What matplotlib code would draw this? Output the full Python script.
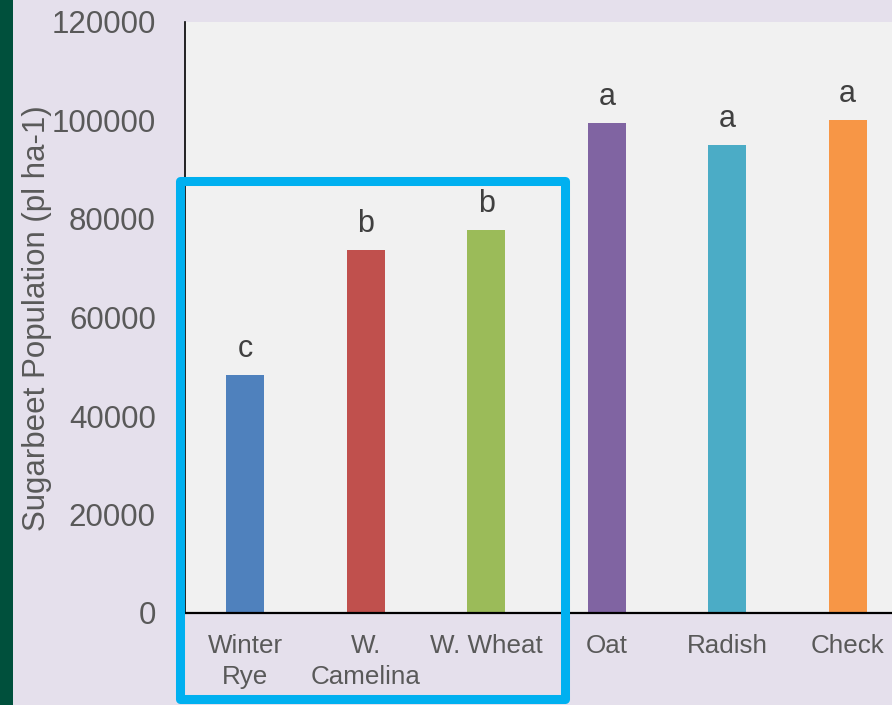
"""Sugarbeet population by cover crop treatment (bar chart with letter groups)"""

import matplotlib
matplotlib.use('Agg')
import matplotlib.pyplot as plt
from matplotlib.patches import Rectangle
import numpy as np

# data
treatments = ['Winter\nRye', 'W.\nCamelina', 'W. Wheat', 'Oat', 'Radish', 'Check']
population = [48300, 73700, 77800, 99500, 95000, 100100]
groups = ['c', 'b', 'b', 'a', 'a', 'a']
bar_colors = ['#4F81BD', '#C0504D', '#9BBB59', '#8064A2', '#4BACC6', '#F79646']
y_ticks = [0, 20000, 40000, 60000, 80000, 100000, 120000]

plt.rcParams['font.family'] = ['Liberation Sans', 'DejaVu Sans']

W, H = 892, 705
fig = plt.figure(figsize=(W / 100, H / 100), dpi=100, facecolor='#E5E0EC')

# dark green strip at the left edge of the slide
strip = Rectangle((0, 0), 13 / W, 1, transform=fig.transFigure,
                  facecolor='#00503C', edgecolor='none')
fig.add_artist(strip)

# plot area runs past the right edge of the slide
ax = fig.add_axes([185 / W, 1 - 613 / H, (908 - 185) / W, (613 - 22) / H])
ax.set_facecolor('#F1F1F1')

x = np.arange(len(treatments))
bars = ax.bar(x, population, width=0.315, color=bar_colors)

# significance letters above bars
for xi, val, g in zip(x, population, groups):
    ax.annotate(g, (xi, val), xytext=(0, 8), textcoords='offset points',
                ha='center', va='bottom', fontsize=22, color='#404040')

ax.set_xlim(-0.5, len(treatments) - 0.5)
ax.set_ylim(0, 120000)
ax.set_yticks(y_ticks)
ax.set_xticks(x, treatments)
ax.tick_params(axis='y', length=0, pad=21, labelsize=22.5, labelcolor='#595959')
ax.tick_params(axis='x', length=0, pad=15, labelsize=18.7, labelcolor='#595959')
for lbl in ax.get_xticklabels():
    lbl.set_linespacing(1.4)

for side in ['top', 'right']:
    ax.spines[side].set_visible(False)
ax.spines['left'].set_color('black')
ax.spines['left'].set_linewidth(1.2)
ax.spines['bottom'].set_color('black')
ax.spines['bottom'].set_linewidth(1.6)

fig.text(37 / W, 1 - 318 / H, 'Sugarbeet Population (pl ha-1)', rotation=90,
         ha='center', va='center', fontsize=22.5, color='#595959')

# blue highlight box round the winter cover crops
box = Rectangle((179.5 / W, 1 - 699 / H), (564.5 - 179.5) / W, (699 - 180.5) / H,
                transform=fig.transFigure, fill=False, edgecolor='#00B0F0',
                linewidth=6.5, joinstyle='round', clip_on=False, zorder=5)
fig.add_artist(box)

fig.savefig('out.png', dpi=100, facecolor=fig.get_facecolor())
